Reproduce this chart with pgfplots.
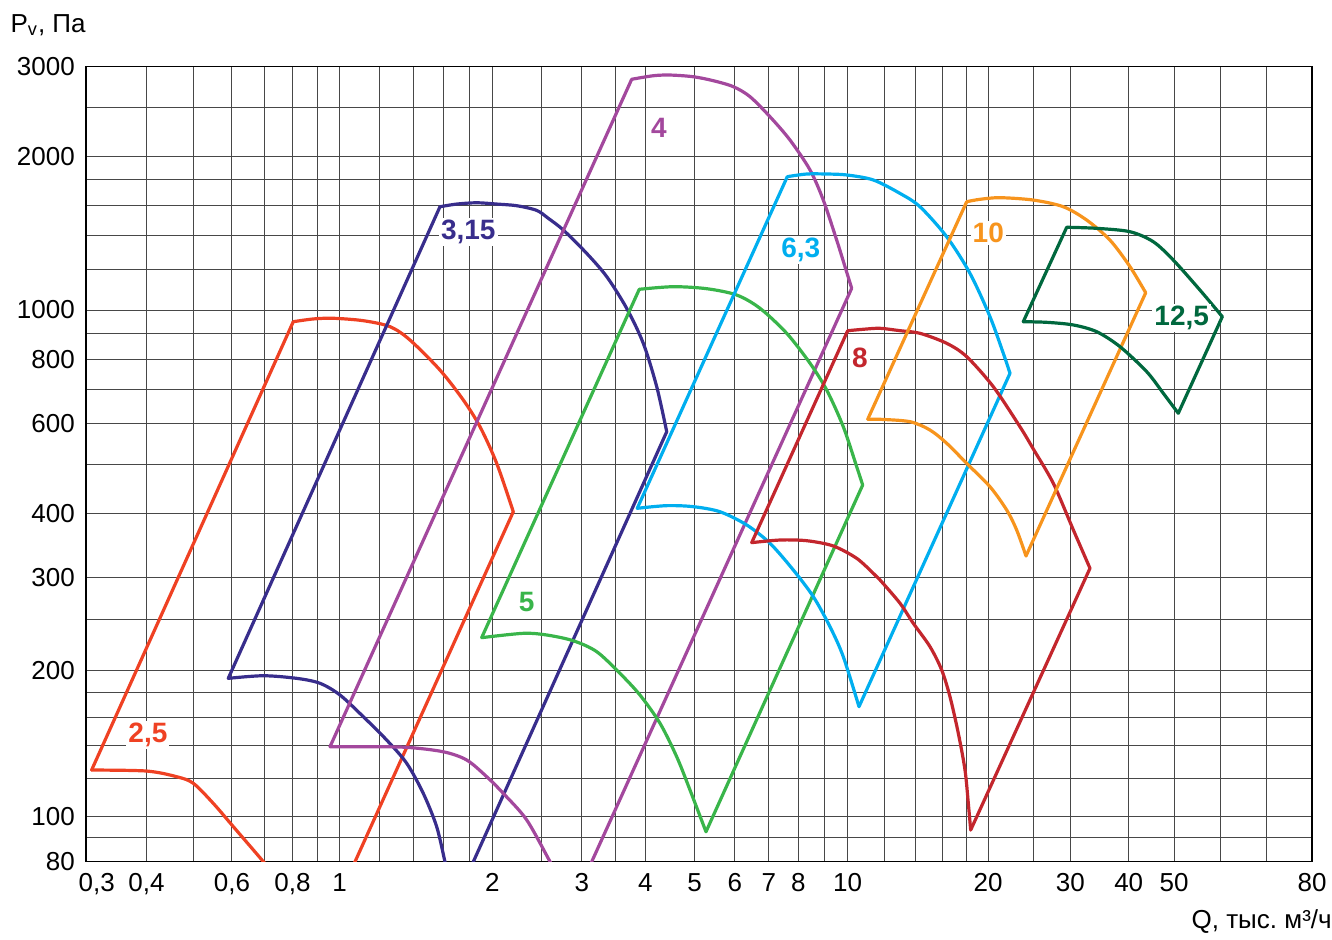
\documentclass[border=0pt]{standalone}
\usepackage{pgfplots}
\pgfplotsset{compat=1.18}
\usepackage{fontspec}
\setmainfont{Liberation Sans}
\definecolor{c25}{RGB}{239,65,35}
\definecolor{c315}{RGB}{56,45,140}
\definecolor{c4}{RGB}{163,72,157}
\definecolor{c5}{RGB}{57,181,74}
\definecolor{c63}{RGB}{0,174,239}
\definecolor{c8}{RGB}{195,38,45}
\definecolor{c10}{RGB}{247,148,29}
\definecolor{c125}{RGB}{0,104,62}
\newcommand\tickfont{\fontsize{13}{15}\selectfont}
\newcommand\lblfont{\bfseries\fontsize{14}{16}\selectfont}
\begin{document}
\begin{tikzpicture}
\useasboundingbox (0,0) rectangle (666pt,470pt);
\begin{axis}[
  scale only axis,
  width=613.05pt, height=397.5pt,
  at={(42.95pt,39.15pt)}, anchor=south west,
  x coord trafo/.code={%
    \pgfmathparse{(#1<1)?(339.5+485*log10(#1)):((#1<10)?(339.5+508.2*log10(#1)):((#1<50)?(847.7+466.8*log10(#1/10)):(1174+4.6*(#1-50))))}},
  y coord trafo/.code={%
    \pgfmathparse{(#1<100)?(464.4*log10(#1/80)):((#1<200)?(45+485*log10(#1/100)):((#1<300)?(191+528*log10(#1/200)):((#1<1000)?(284+512*log10(#1/300)):(551.7+510*log10(#1/1000)))))}},
  xmin=0.3, xmax=80, ymin=80, ymax=3000,
  xtick={0.3,0.4,0.6,0.8,1,2,3,4,5,6,7,8,10,20,30,40,50,80},
  xticklabels={{\hphantom{0,}0,3},{0,4},{0,6},{0,8},1,2,3,4,5,6,7,8,10,20,30,40,50,80},
  minor xtick={0.5,0.7,0.9,1.2,1.4,1.6,1.8,2.5,3.5,9,12,14,16,18,25,60,70},
  ytick={80,100,200,300,400,600,800,1000,2000,3000},
  yticklabels={80,100,200,300,400,600,800,1000,2000,3000},
  minor ytick={90,120,140,160,180,250,500,700,900,1200,1400,1600,1800,2500},
  grid=both,
  major grid style={black!72, line width=0.5pt},
  minor grid style={black!72, line width=0.5pt},
  major tick length=0pt, minor tick length=0pt,
  axis line style={black, line width=0.8pt},
  ticklabel style={font=\tickfont},
  xticklabel style={yshift=-2.3pt},
  yticklabel style={xshift=-2pt},
  xlabel={Q, тыс.\ м³/ч}, ylabel={P\textsubscript{v}, Па},
  xlabel style={at={(rel axis cs:1.0218,-0.0758)}, anchor=east, font=\tickfont},
  ylabel style={at={(rel axis cs:-0.0672,1.0525)}, anchor=west, rotate=-90, font=\tickfont},
  every axis plot/.append style={line width=1.6pt, line join=round, line cap=round, mark=none},
  arc/.style={smooth, tension=0.5},
]
% 2,5
\addplot[c25, arc] coordinates {(0.7254,76.1) (0.697,80) (0.604,95.2) (0.549,106.6) (0.4995,117.2) (0.4617,120.9) (0.4004,124.2) (0.3083,124.8)};
\addplot[c25] coordinates {(0.3083,124.8) (0.8029,948.7)};
\addplot[c25, arc] coordinates {(0.8029,948.7) (0.883,960.5) (0.971,963.5) (1.1137,953.1) (1.2573,927.8) (1.3763,873.8) (1.5766,763.4) (1.7524,667.2) (1.8902,591.6) (2.0388,501.7) (2.1979,403.6)};
\addplot[c25] coordinates {(2.1979,403.6) (1.051,76.1)};
% 3,15
\addplot[c315, arc] coordinates {(1.6309,76.1) (1.6127,80) (1.5532,95.2) (1.4619,111.7) (1.3557,128.9) (1.2384,143.9) (1.1137,160.8) (1.0023,178.2) (0.9116,188.4) (0.8162,192.9) (0.6966,195.3) (0.5898,192.9)};
\addplot[c315] coordinates {(0.5898,192.9) (1.5766,1594)};
\addplot[c315, arc] coordinates {(1.5766,1594) (1.701,1613.5) (1.8622,1623) (2.0388,1613.5) (2.232,1601.5) (2.4437,1568) (2.5761,1512.6) (2.7563,1435.3) (3.0643,1291.7) (3.3563,1162.4) (3.674,1007.7) (3.961,860.9) (4.2093,708.2) (4.4046,578.5)};
\addplot[c315] coordinates {(4.4046,578.5) (1.7967,76.1)};
% 4
\addplot[c4, arc] coordinates {(2.6625,76.1) (2.596,80) (2.3356,98.4) (2.1008,111.7) (1.9489,120.9) (1.7795,130.9) (1.6008,136.1) (1.3557,139.0) (1.1137,139.4) (0.9559,139.4)};
\addplot[c4] coordinates {(0.9559,139.4) (3.7581,2834)};
\addplot[c4, arc] coordinates {(3.7581,2834) (4.1448,2880) (4.4709,2889) (4.9682,2867) (5.4391,2816) (5.9566,2741) (6.4236,2620) (7.0331,2393) (7.7005,2154) (8.4315,1882) (8.953,1643) (9.5141,1371) (9.8785,1216) (10.199,1103)};
\addplot[c4] coordinates {(10.199,1103) (3.0716,76.1)};
% 5
\addplot[c5, arc] coordinates {(3.8895,1098) (4.5383,1111) (5.2788,1101) (6.0488,1070) (6.7217,1007.7) (7.5862,900.5) (8.4315,786.9) (9.0927,697.7) (9.8026,591.6) (10.454,494.2) (10.768,455.2)};
\addplot[c5] coordinates {(10.768,455.2) (5.2621,92.8)};
\addplot[c5, arc] coordinates {(5.2621,92.8) (4.8945,113.5) (4.6089,132.9) (4.2729,155.8) (3.9018,178.2) (3.564,197.5) (3.2077,217.3) (2.8842,227.9) (2.5575,233.7) (2.2998,235.4) (1.9048,231.0)};
\addplot[c5] coordinates {(1.9048,231.0) (3.8895,1098)};
% 6,3
\addplot[c63, arc] coordinates {(7.6069,1826) (8.3063,1848) (9.0927,1848) (9.9548,1840) (11.345,1799) (12.944,1693) (14.285,1594) (16.297,1392) (18.281,1180) (20.175,970.4) (21.544,823.1) (22.268,752.2)};
\addplot[c63] coordinates {(22.268,752.2) (10.573,168.6)};
\addplot[c63, arc] coordinates {(10.573,168.6) (9.8026,212.6) (9.2288,242.3) (8.5585,276.2) (7.8163,310.6) (7.0331,350.2) (6.3283,380.3) (5.6066,403.6) (4.9682,412.9) (4.4046,414.8) (3.8545,409.9)};
\addplot[c63] coordinates {(3.8545,409.9) (7.6069,1826)};
% 8
\addplot[c8, arc] coordinates {(10.0,911.1) (10.8,916.9) (11.727,921) (12.944,911.1) (14.285,900.5) (16.297,860.9) (17.987,810.6) (20.506,708.2) (23.389,591.6) (25.06,532.7) (27.57,458.7) (30.436,371.9) (33.04,313.0)};
\addplot[c8] coordinates {(33.04,313.0) (18.345,93.6)};
\addplot[c8, arc] coordinates {(18.345,93.6) (18.13,106.6) (17.838,124.8) (17.258,148.6) (16.562,176.8) (15.898,200.6) (15.008,222.1) (13.821,245.9) (12.944,268.4) (11.727,297.1) (11.345,306.0) (10.454,327.3) (9.3677,346.0) (8.3063,354.3) (7.3588,355.4) (6.4732,351.2)};
\addplot[c8] coordinates {(6.4732,351.2) (10.0,911.1)};
% 10
\addplot[c10, arc] coordinates {(17.987,1630.7) (19.202,1648.5) (21.2,1660.5) (24.983,1643) (28.968,1594) (32.51,1501) (36.47,1371) (40.25,1216) (43.49,1081)};
\addplot[c10] coordinates {(43.49,1081) (24.098,330.8)};
\addplot[c10, arc] coordinates {(24.098,330.8) (23.01,371.9) (21.908,406.8) (20.175,451.7) (17.987,501.7) (16.297,549.2) (15.008,582.9) (13.598,605.1) (11.727,611.7) (11.037,611.7)};
\addplot[c10] coordinates {(11.037,611.7) (17.987,1630.7)};
% 12,5
\addplot[c125, arc] coordinates {(29.46,1453) (34.15,1446) (40.25,1424) (45.15,1361) (49.83,1253) (55.65,1094) (60.5,970.4)};
\addplot[c125] coordinates {(60.5,970.4) (50.93,628.5)};
\addplot[c125, arc] coordinates {(50.93,628.5) (47.44,687.5) (43.71,757.6) (38.31,848.0) (34.15,907.0) (30.436,934.9) (26.69,946.1) (23.774,948.7)};
\addplot[c125] coordinates {(23.774,948.7) (29.46,1453)};
\node[font=\lblfont, text=c25, fill=white, inner sep=1pt] at (axis cs:0.4028,147.4) {2,5};
\node[font=\lblfont, text=c315, fill=white, inner sep=1pt] at (axis cs:1.7926,1424) {3,15};
\node[font=\lblfont, text=c4, fill=white, inner sep=1pt] at (axis cs:4.2535,2271) {4};
\node[font=\lblfont, text=c5, fill=white, inner sep=1pt] at (axis cs:2.3356,270.2) {5};
\node[font=\lblfont, text=c63, fill=white, inner sep=1pt] at (axis cs:8.0834,1311) {6,3};
\node[font=\lblfont, text=c8, fill=white, inner sep=1pt] at (axis cs:10.626,806.9) {8};
\node[font=\lblfont, text=c10, fill=white, inner sep=1pt] at (axis cs:20.007,1414) {10};
\node[font=\lblfont, text=c125, fill=white, inner sep=1pt] at (axis cs:51.67,963.5) {12,5};
\end{axis}
\end{tikzpicture}
\end{document}
